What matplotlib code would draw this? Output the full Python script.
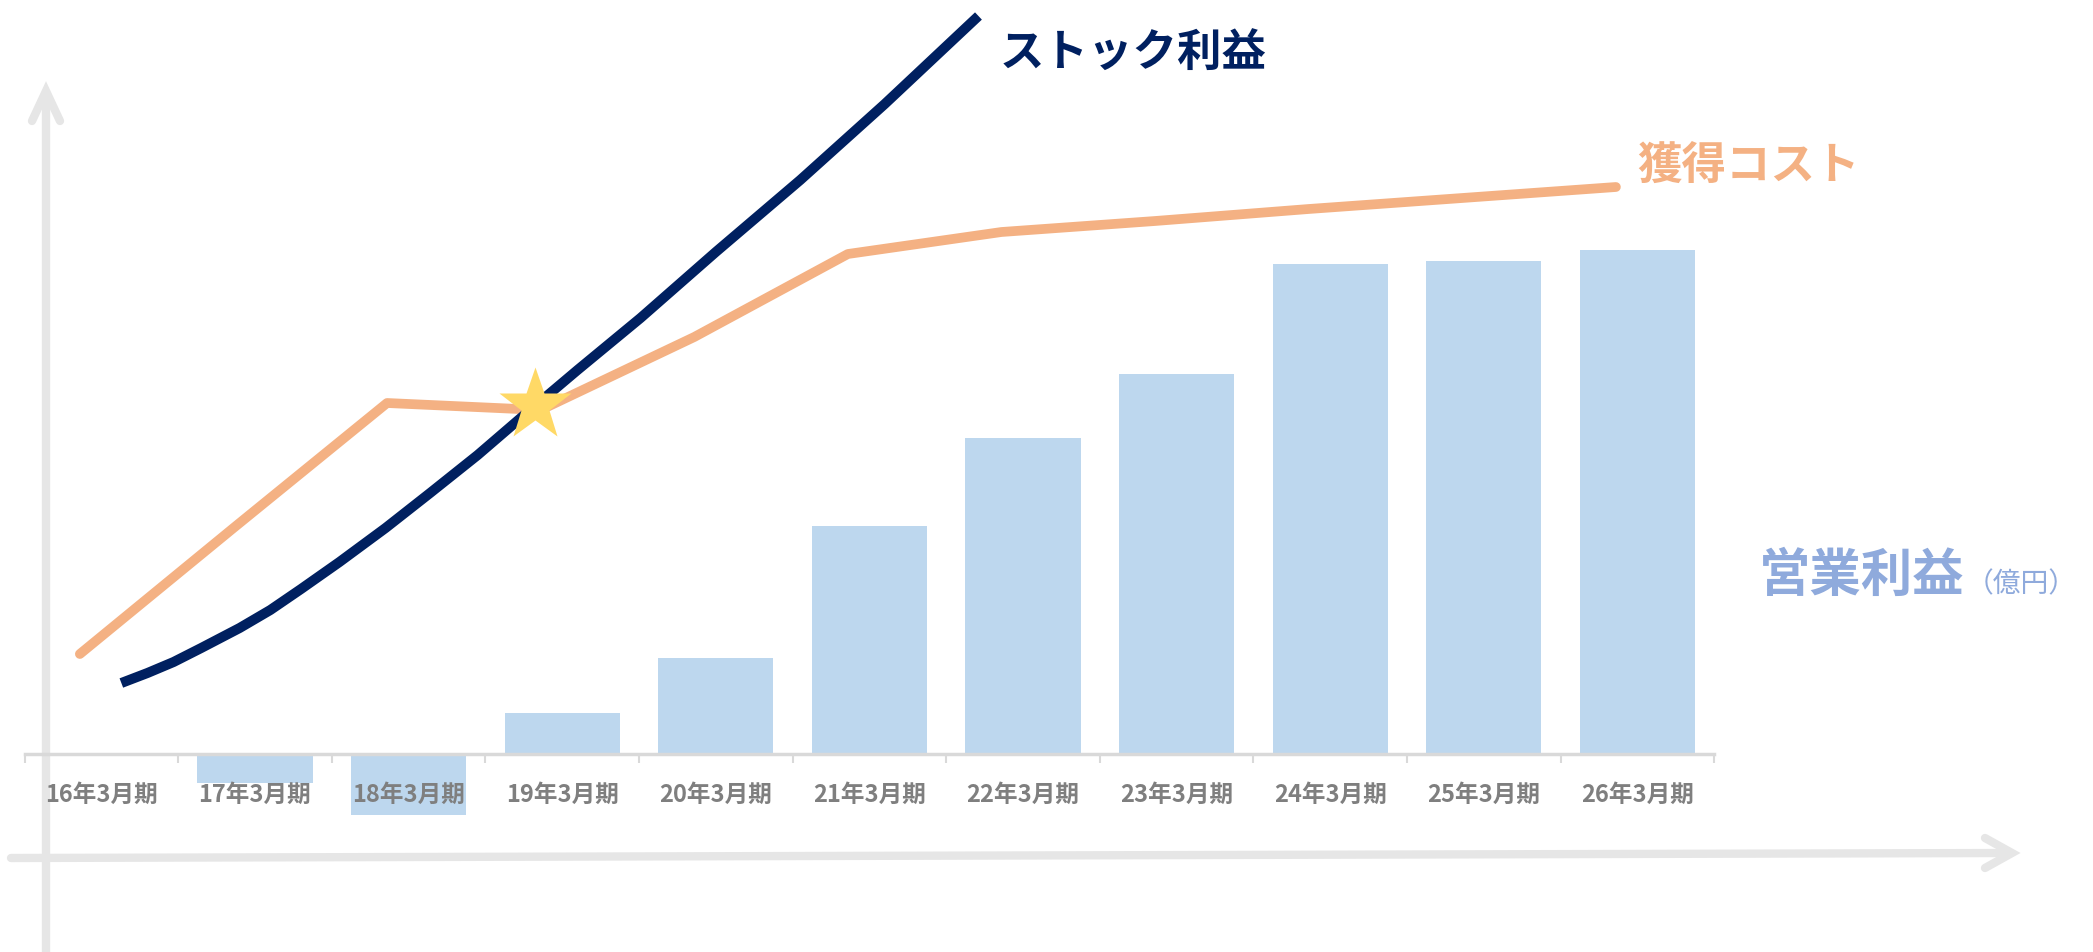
''' Operating profit vs stock profit / acquisition cost '''

import numpy as np
import matplotlib.pyplot as plt

plt.rcParams['font.family'] = ['Noto Sans CJK JP', 'DejaVu Sans']

#data (units are arbitrary)
periods = ['16年3月期', '17年3月期', '18年3月期', '19年3月期', '20年3月期', '21年3月期',
           '22年3月期', '23年3月期', '24年3月期', '25年3月期', '26年3月期']
profit = [1, -29, -61, 41, 96, 228, 316, 380, 490, 493, 504]          #営業利益 bars

cost = [100, 226, 351, 344, 417, 500, 522, 533, 545, 556, 567]        #獲得コスト, one per period
cost_shift = -0.14                                                     #points sit a bit left of centre

#ストック利益 curve
stock_x = [0.13, 0.30, 0.47, 0.65, 0.90, 1.10, 1.30, 1.55, 1.85, 2.14,
           2.45, 2.73, 3.10, 3.51, 4.00, 4.55, 5.10, 5.71]
stock_y = [71, 81, 92, 106, 126, 144, 165, 192, 226, 261,
           299, 336, 384, 436, 502, 574, 650, 738]

star_x = [2.82]
star_y = [349]

#colours
c_bar = '#bdd7ee'
c_cost = '#f4b183'
c_stock = '#002060'
c_star = '#ffd966'
c_grey = '#e6e6e6'
c_label = '#7f7f7f'
c_profit = '#8faadc'

W, H = 2093, 952
fig = plt.figure(figsize=(W / 100, H / 100), dpi=100)

#decoration axes in pixel space (big grey arrows)
deco = fig.add_axes([0, 0, 1, 1])
deco.set_xlim(0, W)
deco.set_ylim(H, 0)
deco.axis('off')
kw = dict(color=c_grey, lw=6, solid_capstyle='round', zorder=1)
deco.plot([46, 46], [H + 5, 94], **kw)
deco.plot([32, 46, 60], [121, 91, 121], solid_joinstyle='miter', **kw)
deco.plot([11, 2008], [858, 853], **kw)
deco.plot([1985, 2012, 1985], [838, 853, 868], solid_joinstyle='miter', **kw)

#main axes
ax = fig.add_axes([0, 0, 1, 1], facecolor='none')
x = np.arange(len(periods))
ax.set_xlim(-0.660, 12.966)
ax.set_ylim(-198, 754)
ax.axis('off')

ax.bar(x, profit, width=0.75, color=c_bar, zorder=2)

#category axis
ax.plot([x[0] - 0.5, x[-1] + 0.5], [0, 0], color='#d9d9d9', lw=2.5, zorder=3)
ax.vlines(np.append(x - 0.5, x[-1] + 0.5), -9, 0, color='#d9d9d9', lw=1.5, zorder=3)
for xi, lab in zip(x, periods):
    ax.text(xi, -41, lab, ha='center', va='center', fontsize=17,
            color=c_label, fontweight='bold', zorder=4)

#lines
ax.plot(x + cost_shift, cost, color=c_cost, lw=7, solid_capstyle='round',
        solid_joinstyle='round', zorder=5)
ax.plot(stock_x, stock_y, color=c_stock, lw=7.2, solid_capstyle='butt',
        solid_joinstyle='round', zorder=6)
ax.plot(star_x, star_y, marker='*', markersize=55, color=c_star, mec='none',
        ls='none', zorder=7)

#labels
ax.text(5.85, 754 - 54, 'ストック利益', ha='left', va='center', fontsize=32,
        fontweight='bold', color=c_stock)
ax.text(10.0, 754 - 167, '獲得コスト', ha='left', va='center', fontsize=32,
        fontweight='bold', color=c_cost)
ax.text(10.79, 754 - 575, '営業利益', ha='left', va='center', fontsize=37,
        fontweight='bold', color=c_profit)
ax.text(12.14, 754 - 584, '（億円）', ha='left', va='center', fontsize=20,
        color=c_profit)

plt.savefig('out.png', dpi=100)
